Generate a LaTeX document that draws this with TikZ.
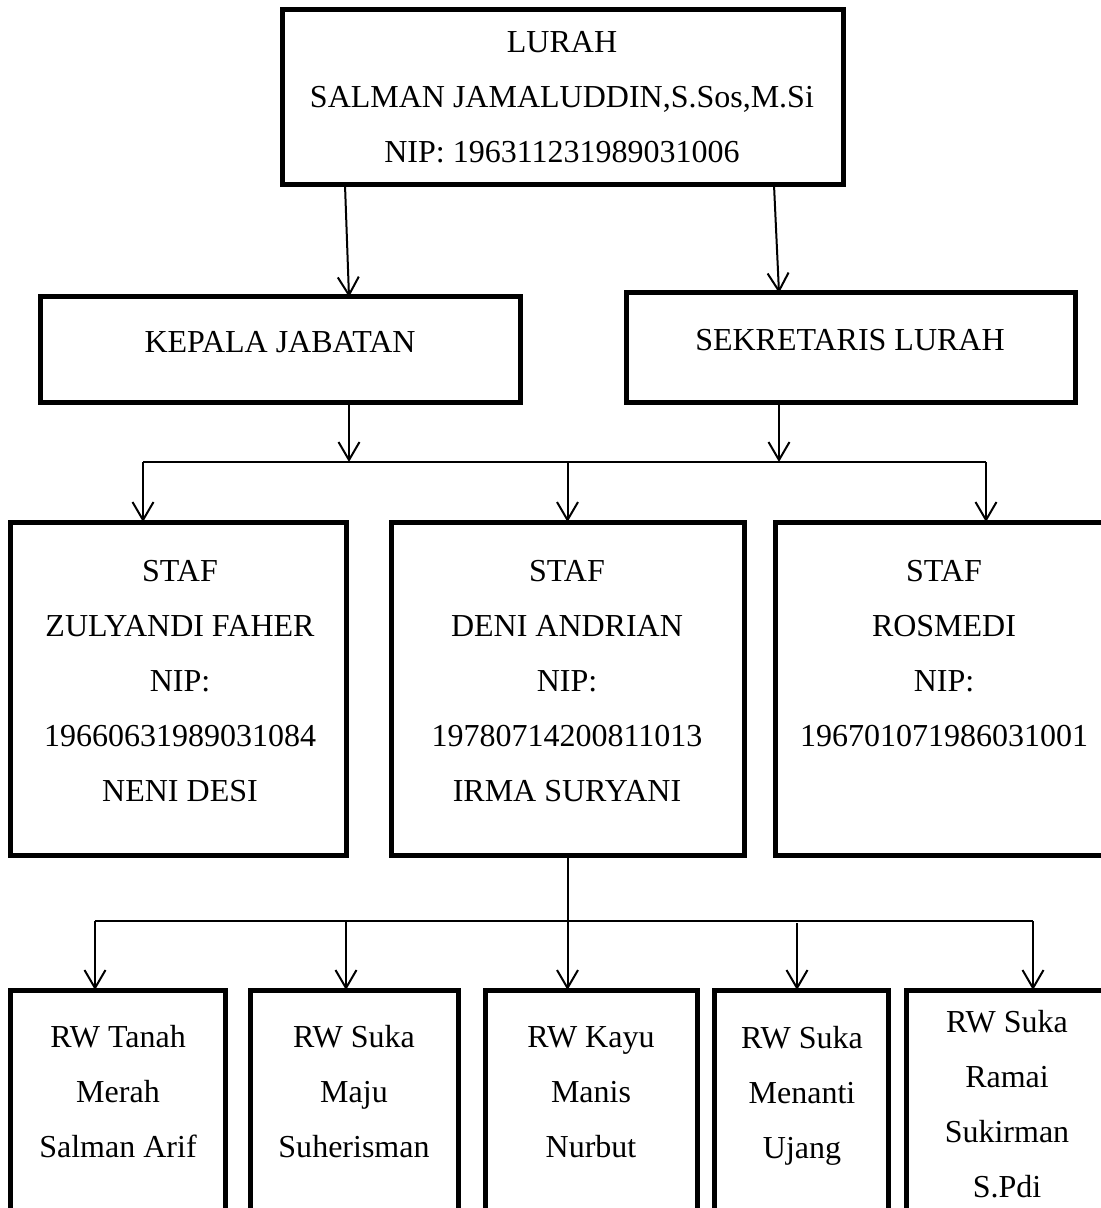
\documentclass[tikz,border=0pt]{standalone}
\usepackage{fontspec}
\setmainfont{Liberation Serif}
\usetikzlibrary{arrows.meta}

\begin{document}
\begin{tikzpicture}[x=0.5pt,y=-0.5pt,
  box/.style={draw,line width=2.5pt,inner sep=0pt,outer sep=0pt},
  txt/.style={font=\fontsize{16}{27.5}\selectfont,align=center,inner sep=0pt},
  arr/.style={line width=1pt,-{Straight Barb[length=9pt,width=10.5pt]}},
  bus/.style={line width=1pt}]
\useasboundingbox (0,0) rectangle (1101,1208);
\clip (0,0) rectangle (1101,1208);

\node[box,minimum width=280.5pt,minimum height=87.5pt] (lurah) at (562.5,97.5) {};
\node[box,minimum width=240pt,minimum height=52.5pt] (kepala) at (280,349.5) {};
\node[box,minimum width=224.5pt,minimum height=54.5pt] (sekretaris) at (850.5,347.5) {};
\node[box,minimum width=168pt,minimum height=166.5pt] (stafA) at (178,688.5) {};
\node[box,minimum width=176.5pt,minimum height=166.5pt] (stafB) at (567.5,688.5) {};
\node[box,minimum width=177.5pt,minimum height=166.5pt] (stafC) at (952.5,688.5) {};
\node[box,minimum width=107.5pt,minimum height=130pt] (rwA) at (117.5,1120) {};
\node[box,minimum width=104pt,minimum height=130pt] (rwB) at (354,1120) {};
\node[box,minimum width=106pt,minimum height=130pt] (rwC) at (591,1120) {};
\node[box,minimum width=87pt,minimum height=130pt] (rwD) at (801,1120) {};
\node[box,minimum width=112pt,minimum height=130pt] (rwE) at (1018,1120) {};

\node[txt] (lurahText) at (562,97.5) {LURAH\\SALMAN JAMALUDDIN,S.Sos,M.Si\\NIP: 196311231989031006};
\node[txt] (kepalaText) at (280,342) {KEPALA JABATAN};
\node[txt] (sekretarisText) at (850,340) {SEKRETARIS LURAH};
\node[txt] (stafAText) at (180,681) {STAF\\ZULYANDI FAHER\\NIP:\\19660631989031084\\NENI DESI};
\node[txt] (stafBText) at (567,681) {STAF\\DENI ANDRIAN\\NIP:\\19780714200811013\\IRMA SURYANI};
\node[txt] (stafCText) at (944,654) {STAF\\ROSMEDI\\NIP:\\196701071986031001};
\node[txt] (rwAText) at (118,1092) {RW Tanah\\Merah\\Salman Arif};
\node[txt] (rwBText) at (354,1092) {RW Suka\\Maju\\Suherisman};
\node[txt] (rwCText) at (591,1092) {RW Kayu\\Manis\\Nurbut};
\node[txt] (rwDText) at (802,1096) {RW Suka\\Menanti\\Ujang};
\node[txt] (rwEText) at (1007,1104) {RW Suka\\Ramai\\Sukirman\\S.Pdi};

\coordinate (lurahL) at ([xshift=31.5pt]lurah.south west);
\coordinate (lurahR) at ([xshift=246pt]lurah.south west);
\draw[arr] (lurahL) -- ([xshift=154.5pt]kepala.north west);
\draw[arr] (lurahR) -- ([xshift=76.5pt]sekretaris.north west);

\coordinate (busL) at (143,462);
\coordinate (busR) at (986,462);
\coordinate (kepalaOut) at ([xshift=154.5pt]kepala.south west);
\coordinate (sekretarisOut) at ([xshift=76.5pt]sekretaris.south west);
\draw[bus] (busL) -- (busR);
\draw[arr] (kepalaOut) -- (kepalaOut |- busL);
\draw[arr] (sekretarisOut) -- (sekretarisOut |- busL);
\draw[arr] (busL) -- (busL |- stafA.north);
\draw[arr] (stafB.north |- busL) -- (stafB.north);
\draw[arr] (busR) -- (busR |- stafC.north);

\coordinate (rwL) at (95,921);
\coordinate (rwR) at (1033,921);
\coordinate (rwBIn) at (346,921);
\coordinate (rwDIn) at (797,923);
\draw[bus] (rwL) -- (rwR);
\draw[arr] (stafB.south) -- (stafB.south |- rwC.north);
\draw[arr] (rwL) -- (rwL |- rwA.north);
\draw[arr] (rwBIn) -- (rwBIn |- rwB.north);
\draw[arr] (rwDIn) -- (rwDIn |- rwD.north);
\draw[arr] (rwR) -- (rwR |- rwE.north);
\end{tikzpicture}
\end{document}
